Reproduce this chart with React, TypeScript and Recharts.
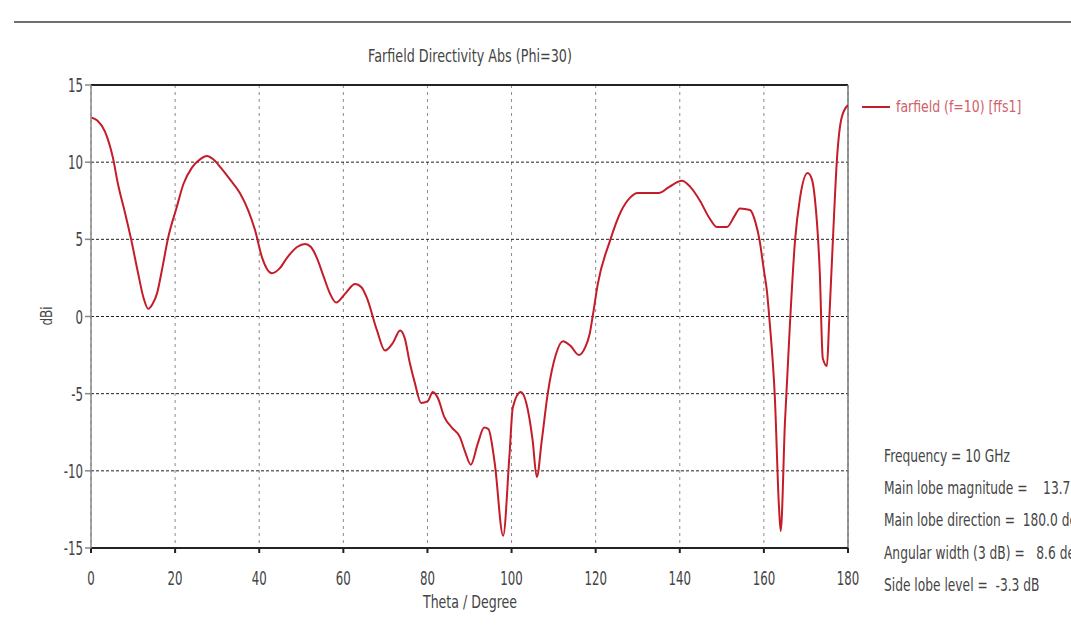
import React from "react";
import {
  LineChart,
  Line,
  XAxis,
  YAxis,
  CartesianGrid,
  ReferenceLine,
} from "recharts";

const thetaDeg = [
  0, 1.5, 3.3, 5.2, 6.4, 8.1, 9.5, 11.2, 12.5, 13.6, 14.6, 15.7, 17, 18.3, 20.4, 22, 24, 26, 27.6, 29,
  30.7, 33, 35.4, 37.5, 39, 40.7, 43, 44.8, 46.6, 49, 50.9, 52.3, 53.7, 55.3, 56.8, 58.3, 60.5, 62.8, 64.3, 65.6,
  68, 69.9, 71.8, 73.5, 74.6, 75.8, 77, 78.5, 80, 81.3, 82.5, 84, 85.8, 87.7, 89, 90.3, 92, 93.5, 94.5, 96,
  98, 99.5, 100.3, 102.2, 103.5, 105, 106, 107.2, 108.6, 110.5, 112.2, 114, 116, 117.5, 118.6, 119.4, 120.5, 123.4, 126, 128.2,
  130, 135, 137.5, 140.5, 142.5, 144.8, 147, 148.8, 151.2, 153, 154.3, 156.7, 158, 159, 160, 160.7, 161.4, 162.6, 163.6, 164,
  165, 166.2, 167.4, 168.6, 170.4, 171.4, 172.1, 173.3, 174, 175, 175.5, 176.4, 177.4, 178.5, 180,
];

const directivityDb = [
  12.9, 12.7, 12.0, 10.3, 8.6, 6.7, 5.05, 2.8, 1.2, 0.5, 0.8, 1.5, 3.2, 5.05, 7.1, 8.6, 9.65, 10.2, 10.4, 10.2,
  9.7, 8.9, 8.0, 6.8, 5.6, 3.8, 2.8, 3.1, 3.8, 4.5, 4.7, 4.5, 3.8, 2.6, 1.5, 0.9, 1.5, 2.1, 1.9, 1.2,
  -0.9, -2.2, -1.7, -0.9, -1.4, -3.0, -4.3, -5.6, -5.5, -4.9, -5.3, -6.5, -7.2, -7.8, -8.8, -9.6, -8.2, -7.2, -7.3, -9.5,
  -14.2, -9.0, -5.9, -4.9, -5.6, -8.0, -10.4, -8.0, -5.0, -2.5, -1.6, -1.9, -2.5, -2.0, -1.1, 0.2, 2.1, 4.9, 6.8, 7.7,
  8.0, 8.0, 8.4, 8.8, 8.4, 7.5, 6.4, 5.8, 5.8, 6.5, 7.0, 6.9, 6.1, 4.9, 3.0, 1.7, -0.45, -5.2, -12.4, -13.9,
  -6.9, -0.45, 4.9, 7.7, 9.3, 8.9, 7.7, 2.8, -2.7, -3.2, -0.45, 4.9, 10.3, 12.9, 13.7,
];

const xTicks = [0, 20, 40, 60, 80, 100, 120, 140, 160, 180];
const yTicks = [-15, -10, -5, 0, 5, 10, 15];

const chartTitle = "Farfield Directivity Abs (Phi=30)";
const xAxisTitle = "Theta / Degree";
const yAxisTitle = "dBi";
const seriesName = "farfield (f=10) [ffs1]";
const infoLines = [
  "Frequency = 10 GHz",
  "Main lobe magnitude =    13.7 dB",
  "Main lobe direction =  180.0 deg.",
  "Angular width (3 dB) =   8.6 deg.",
  "Side lobe level =  -3.3 dB",
];

const data = thetaDeg.map((t, i) => ({ theta: t, db: directivityDb[i] }));

const FONT = '"DejaVu Sans", Verdana, sans-serif';
const TEXT = "#444";

const XTick = (props: any) => {
  const { x, y, payload } = props;
  return (
    <g transform={`translate(${x},${y})`}>
      <text transform="scale(0.62,1)" textAnchor="middle" dy={26} fill={TEXT} fontSize={19} fontFamily={FONT}>
        {payload.value}
      </text>
    </g>
  );
};

const YTick = (props: any) => {
  const { x, y, payload } = props;
  return (
    <g transform={`translate(${x},${y})`}>
      <text transform="scale(0.62,1)" textAnchor="end" dy={7} fill={TEXT} fontSize={19} fontFamily={FONT}>
        {payload.value}
      </text>
    </g>
  );
};

const Squeezed = ({ left, top, size, scale, color, children, center }: any) => (
  <div
    style={{
      position: "absolute",
      left,
      top,
      fontSize: size,
      color,
      whiteSpace: "pre",
      lineHeight: 1,
      transform: center ? `translateX(-50%) scaleX(${scale})` : `scaleX(${scale})`,
      transformOrigin: center ? "center top" : "left top",
    }}
  >
    {children}
  </div>
);

export default function App() {
  return (
    <div
      style={{
        position: "absolute",
        left: 0,
        top: 0,
        width: 1071,
        height: 630,
        background: "#fff",
        overflow: "hidden",
        fontFamily: FONT,
      }}
    >
      <div style={{ position: "absolute", left: 14, top: 21, width: 1057, height: 2, background: "#707070" }} />
      <LineChart
        width={1071}
        height={630}
        data={data}
        margin={{ top: 85, left: 51, right: 223, bottom: 52 }}
      >
        <CartesianGrid horizontal={false} vertical={true} stroke="#8a8a8a" strokeDasharray="3 4" />
        <CartesianGrid horizontal={true} vertical={false} stroke="#222" strokeDasharray="3 2" />
        <XAxis
          dataKey="theta"
          type="number"
          domain={[0, 180]}
          ticks={xTicks}
          allowDataOverflow
          stroke="#222"
          strokeWidth={2}
          tickSize={5}
          tickMargin={6}
          tick={<XTick />}
          height={30}
        />
        <YAxis
          type="number"
          domain={[-15, 15]}
          ticks={yTicks}
          allowDataOverflow
          stroke="#888"
          strokeWidth={1.5}
          tickSize={6}
          tickMargin={2}
          width={40}
          tick={<YTick />}
        />
        <ReferenceLine y={15} stroke="#222" strokeWidth={2} />
        <ReferenceLine x={180} stroke="#777" strokeWidth={1.5} />
        <Line
          type="monotone"
          dataKey="db"
          stroke="#c41c28"
          strokeWidth={2}
          dot={false}
          isAnimationActive={false}
        />
      </LineChart>
      <Squeezed left={470} top={48} size={17} scale={0.75} color={TEXT} center>
        {chartTitle}
      </Squeezed>
      <Squeezed left={470} top={594} size={17} scale={0.74} color={TEXT} center>
        {xAxisTitle}
      </Squeezed>
      <div
        style={{
          position: "absolute",
          left: 47,
          top: 316,
          fontSize: 15,
          color: TEXT,
          lineHeight: 1,
          transform: "translate(-50%,-50%) rotate(-90deg) scaleX(0.8)",
        }}
      >
        {yAxisTitle}
      </div>
      <div style={{ position: "absolute", left: 862, top: 106, width: 28, height: 2, background: "#c41c28" }} />
      <Squeezed left={896} top={99} size={16} scale={0.78} color="#d0606a">
        {seriesName}
      </Squeezed>
      {infoLines.map((s, i) => (
        <Squeezed key={i} left={884} top={447 + i * 32.2} size={18} scale={0.68} color={TEXT}>
          {s}
        </Squeezed>
      ))}
    </div>
  );
}
